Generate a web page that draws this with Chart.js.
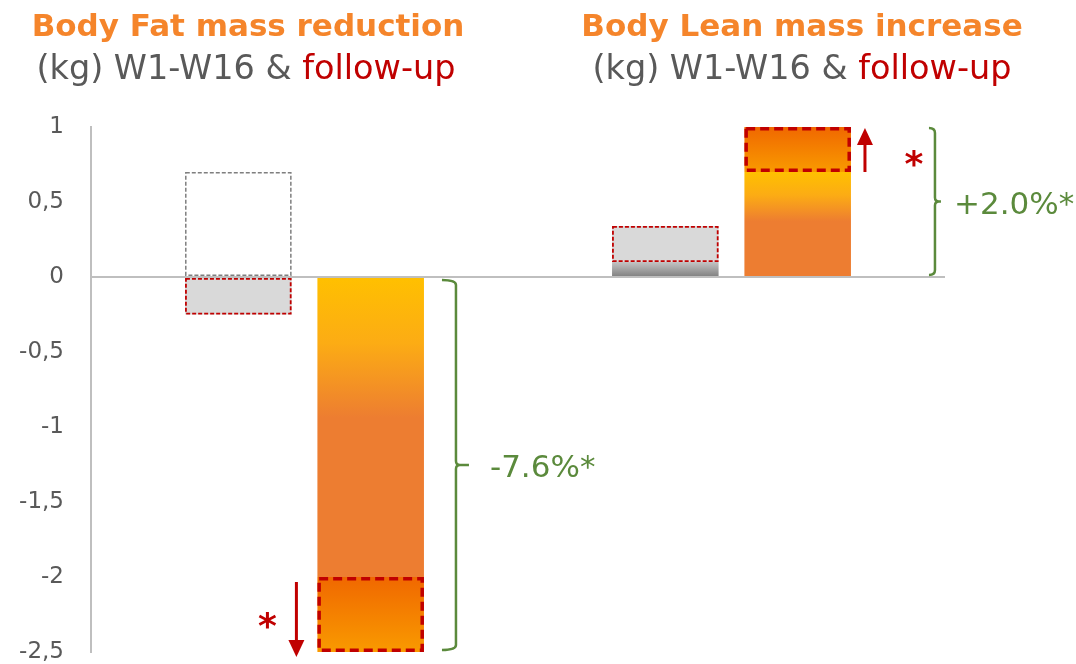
<!DOCTYPE html>
<html>
<head>
<meta charset="utf-8">
<script src="https://cdn.jsdelivr.net/npm/chart.js@4.4.1/dist/chart.umd.min.js"></script>
<style>
  html, body { margin: 0; padding: 0; background: #fff; }
  #wrap { position: relative; width: 1076px; height: 664px; overflow: hidden; font-family: "DejaVu Sans", sans-serif; }
  #c { position: absolute; left: 0; top: 0; }
  .t { position: absolute; width: 540px; text-align: center; line-height: 1; white-space: nowrap; }
  .t1 { font-weight: bold; color: #F5852B; font-size: 31px; top: 10px; }
  .t2 { color: #595959; font-size: 33.5px; top: 51px; }
  .t2 span { color: #C00000; }
</style>
</head>
<body>
<div id="wrap">
  <canvas id="c" width="1076" height="664"></canvas>
  <div class="t t1" style="left:-22px">Body Fat mass reduction</div>
  <div class="t t2" style="left:-24px">(kg) W1-W16 &amp; <span>follow-up</span></div>
  <div class="t t1" style="left:532px">Body Lean mass increase</div>
  <div class="t t2" style="left:532px">(kg) W1-W16 &amp; <span>follow-up</span></div>
</div>
<script>
// Change in body composition (kg), placebo vs. active, for the treatment period and follow-up
const categories = ['Body Fat mass', 'Body Lean mass'];
const placeboW1W16 = [0.7, 0.1];
const placeboFollowUp = [-0.25, 0.24];
const activeW1W16 = [-2.0, 0.7];
const activeFollowUp = [-0.5, 0.3];
const changeLabels = ['-7.6%*', '+2.0%*'];
const yMin = -2.5, yMax = 1, yStep = 0.5;

const RED = '#C00000';
const GREEN = '#5B8A3C';
const AXIS = '#BFBFBF';

// vertical gradient between two values on the y scale
function vGrad(chart, v0, v1, stops) {
  const y = chart.scales.y;
  if (!y || !chart.chartArea) return stops[stops.length - 1][1];
  const p0 = y.getPixelForValue(v0), p1 = y.getPixelForValue(v1);
  const top = Math.min(p0, p1), bot = Math.max(p0, p1);
  const g = chart.ctx.createLinearGradient(0, top, 0, bot);
  stops.forEach(([o, c]) => g.addColorStop(o, c));
  return g;
}

const data = {
  labels: categories,
  datasets: [
    {
      label: 'Placebo W1-W16',
      stack: 'placebo',
      data: placeboW1W16,
      backgroundColor: (ctx) => ctx.dataIndex === 0 ? '#FFFFFF'
        : vGrad(ctx.chart, 0, placeboW1W16[1], [[0, '#C4C4C4'], [1, '#7F7F7F']]),
      outline: [{ color: '#7F7F7F', width: 1.5, dash: [4, 2] }, null]
    },
    {
      label: 'Placebo follow-up',
      stack: 'placebo',
      data: placeboFollowUp,
      backgroundColor: '#D9D9D9',
      outline: [{ color: RED, width: 1.8, dash: [4, 2] }, { color: RED, width: 1.8, dash: [4, 2] }]
    },
    {
      label: 'Active W1-W16',
      stack: 'active',
      data: activeW1W16,
      backgroundColor: (ctx) => {
        const v = activeW1W16[ctx.dataIndex];
        const top = Math.max(0, v), bot = Math.min(0, v);
        return vGrad(ctx.chart, top, bot, [[0, '#FFC000'], [0.22, '#FCAC14'], [0.47, '#ED7D31'], [1, '#ED7D31']]);
      },
      outline: [null, null]
    },
    {
      label: 'Active follow-up',
      stack: 'active',
      data: activeFollowUp,
      backgroundColor: (ctx) => {
        const s = activeW1W16[ctx.dataIndex], e = s + activeFollowUp[ctx.dataIndex];
        return vGrad(ctx.chart, Math.max(s, e), Math.min(s, e), [[0, '#F06800'], [1, '#F99A00']]);
      },
      outline: [{ color: RED, width: 3.5, dash: [9, 5] }, { color: RED, width: 3.5, dash: [9, 5] }]
    }
  ]
};

// dashed frames around the bars
const outlinePlugin = {
  id: 'outlines',
  afterDatasetsDraw(chart) {
    const ctx = chart.ctx;
    chart.data.datasets.forEach((ds, di) => {
      const meta = chart.getDatasetMeta(di);
      meta.data.forEach((el, i) => {
        const o = ds.outline && ds.outline[i];
        if (!o) return;
        const { x, y, base, width } = el.getProps(['x', 'y', 'base', 'width'], true);
        const h = o.width / 2;
        const left = x - width / 2 + h, right = x + width / 2 - h;
        const top = Math.min(y, base) + h, bot = Math.max(y, base) - h;
        ctx.save();
        ctx.strokeStyle = o.color;
        ctx.lineWidth = o.width;
        ctx.setLineDash(o.dash);
        ctx.strokeRect(left, top, right - left, bot - top);
        ctx.restore();
      });
    });
  }
};

function brace(ctx, x, top, bottom, hook, notch) {
  const mid = (top + bottom) / 2;
  ctx.beginPath();
  ctx.moveTo(x - hook, top);
  ctx.quadraticCurveTo(x, top, x, top + 5);
  ctx.lineTo(x, mid - 4);
  ctx.quadraticCurveTo(x, mid, x + 4, mid);
  ctx.lineTo(x + notch, mid);
  ctx.moveTo(x + 4, mid);
  ctx.quadraticCurveTo(x, mid, x, mid + 4);
  ctx.lineTo(x, bottom - 5);
  ctx.quadraticCurveTo(x, bottom, x - hook, bottom);
  ctx.stroke();
  return mid;
}

function arrow(ctx, x, y0, y1) {
  const dir = y1 > y0 ? 1 : -1;
  const headLen = 17, headW = 8;
  ctx.beginPath();
  ctx.moveTo(x, y0);
  ctx.lineTo(x, y1 - dir * headLen);
  ctx.stroke();
  ctx.beginPath();
  ctx.moveTo(x - headW, y1 - dir * headLen);
  ctx.lineTo(x + headW, y1 - dir * headLen);
  ctx.lineTo(x, y1);
  ctx.closePath();
  ctx.fill();
}

// braces with percentage change, arrows and significance stars
const annotatePlugin = {
  id: 'annotate',
  afterDatasetsDraw(chart) {
    const ctx = chart.ctx;
    const ys = chart.scales.y;
    const act = chart.getDatasetMeta(3).data;
    const fat = act[0].getProps(['x', 'width'], true);
    const lean = act[1].getProps(['x', 'width'], true);
    const fatLeft = fat.x - fat.width / 2, fatRight = fat.x + fat.width / 2;
    const leanRight = lean.x + lean.width / 2;
    const fatEnd = activeW1W16[0] + activeFollowUp[0];
    const leanEnd = activeW1W16[1] + activeFollowUp[1];

    ctx.save();
    ctx.strokeStyle = GREEN;
    ctx.fillStyle = GREEN;
    ctx.lineWidth = 2.5;
    ctx.font = '31px "DejaVu Sans"';
    ctx.textAlign = 'left';
    ctx.textBaseline = 'alphabetic';
    const bx1 = fatRight + 32;
    const m1 = brace(ctx, bx1, ys.getPixelForValue(0) + 3, ys.getPixelForValue(fatEnd) - 2, 14, 13);
    ctx.fillText(changeLabels[0], bx1 + 34, m1 + 12);
    const bx2 = leanRight + 84;
    const m2 = brace(ctx, bx2, ys.getPixelForValue(leanEnd) + 1, ys.getPixelForValue(0) - 2, 6, 6);
    ctx.fillText(changeLabels[1], bx2 + 19, m2 + 12);

    ctx.strokeStyle = RED;
    ctx.fillStyle = RED;
    ctx.lineWidth = 3;
    arrow(ctx, fatLeft - 21, ys.getPixelForValue(activeW1W16[0]) + 5, ys.getPixelForValue(fatEnd) + 5);
    arrow(ctx, leanRight + 14, ys.getPixelForValue(activeW1W16[1]), ys.getPixelForValue(leanEnd) + 1);

    ctx.font = 'bold 36px "DejaVu Sans"';
    ctx.textAlign = 'center';
    ctx.fillText('*', fatLeft - 50, ys.getPixelForValue(activeW1W16[0]) + 40 + 21);
    ctx.fillText('*', leanRight + 63, ys.getPixelForValue(leanEnd) + 28 + 21);
    ctx.restore();
  }
};

new Chart(document.getElementById('c'), {
  type: 'bar',
  data,
  plugins: [outlinePlugin, annotatePlugin],
  options: {
    responsive: false,
    animation: false,
    devicePixelRatio: 1,
    categoryPercentage: 0.62,
    barPercentage: 0.805,
    layout: { padding: { top: 127, bottom: 12, left: 0, right: 131 } },
    plugins: { legend: { display: false }, tooltip: { enabled: false }, title: { display: false } },
    scales: {
      x: { stacked: true, display: false },
      y: {
        stacked: true,
        min: yMin,
        max: yMax,
        afterFit(scale) {
          scale.width = 91;
          scale.paddingTop = 0;
          scale.paddingBottom = 0;
        },
        border: { display: true, color: AXIS, width: 2 },
        grid: {
          drawTicks: true,
          tickLength: 27,
          tickColor: 'rgba(0,0,0,0)',
          lineWidth: 2,
          color: (ctx) => (ctx.tick && ctx.tick.value === 0) ? AXIS : 'rgba(0,0,0,0)'
        },
        ticks: {
          stepSize: yStep,
          padding: 0,
          color: '#595959',
          font: { family: 'DejaVu Sans', size: 23, lineHeight: 1 },
          callback: (v) => String(v).replace('.', ',')
        }
      }
    }
  }
});
</script>
</body>
</html>
